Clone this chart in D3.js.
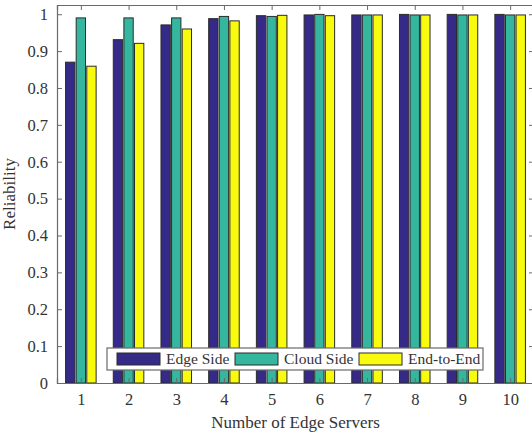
<!DOCTYPE html>
<html>
<head>
<meta charset="utf-8">
<script src="https://cdn.jsdelivr.net/npm/d3@7"></script>
<style>
  body { margin: 0; background: #fff; }
  svg { display: block; font-family: "Liberation Serif", "Times New Roman", serif; }
</style>
</head>
<body>
<div id="chart"></div>
<script>
// data
var servers = [1, 2, 3, 4, 5, 6, 7, 8, 9, 10];
var seriesNames = ["Edge Side", "Cloud Side", "End-to-End"];
var edgeSide  = [0.870, 0.931, 0.971, 0.988, 0.996, 0.998, 0.998, 0.9995, 0.9995, 0.9995];
var cloudSide = [0.990, 0.990, 0.990, 0.994, 0.994, 0.9995, 0.998, 0.998, 0.998, 0.998];
var endToEnd  = [0.859, 0.921, 0.960, 0.982, 0.997, 0.996, 0.998, 0.998, 0.998, 0.998];
var yTicks = [0, 0.1, 0.2, 0.3, 0.4, 0.5, 0.6, 0.7, 0.8, 0.9, 1];
var colors = ["#352a87", "#35b79f", "#f9fb0e"];

var allSeries = [edgeSide, cloudSide, endToEnd];

var width = 532, height = 435;
var margin = { top: 5, right: -2, bottom: 52, left: 57 };
var w = width - margin.left - margin.right,
    h = height - margin.top - margin.bottom;

var svg = d3.select("#chart").append("svg")
  .attr("width", width)
  .attr("height", height);

var g = svg.append("g")
  .attr("transform", "translate(" + margin.left + "," + margin.top + ")");

// scales
var x = d3.scaleLinear().domain([0.5, 10.5]).range([0, w]);
var y = d3.scaleLinear().domain([0, 1.025]).range([h, 0]);

var step = x(2) - x(1);
var groupW = step * 0.667;
var inner = d3.scaleBand()
  .domain(d3.range(seriesNames.length))
  .range([-groupW / 2, groupW / 2])
  .paddingInner(0.12)
  .paddingOuter(0.06);

// bars
var groups = g.selectAll(".series")
  .data(allSeries)
  .enter().append("g")
  .attr("class", "series")
  .style("fill", function (d, i) { return colors[i]; });

groups.each(function (vals, si) {
  d3.select(this).selectAll("rect")
    .data(vals)
    .enter().append("rect")
    .attr("x", function (d, i) { return x(servers[i]) + inner(si); })
    .attr("y", function (d) { return y(d); })
    .attr("width", inner.bandwidth())
    .attr("height", function (d) { return h - y(d); })
    .attr("stroke", "#2b2b2b")
    .attr("stroke-width", 1);
});

// axes (MATLAB style box, ticks inward)
var axisColor = "#6a6a6a";

var xAxis = d3.axisBottom(x).tickValues(servers).tickSize(-5).tickPadding(10).tickFormat(d3.format("d"));
var yAxis = d3.axisLeft(y).tickValues(yTicks).tickSize(-5).tickPadding(9).tickFormat(function (d) { return d === 0 || d === 1 ? d : d.toFixed(1); });

g.append("g")
  .attr("class", "x-axis axis")
  .attr("transform", "translate(0," + h + ")")
  .call(xAxis);

g.append("g")
  .attr("class", "y-axis axis")
  .call(yAxis);

g.append("g")
  .attr("class", "x-axis-top axis")
  .call(d3.axisTop(x).tickValues(servers).tickSize(-5).tickFormat(""));

g.append("g")
  .attr("class", "y-axis-right axis")
  .attr("transform", "translate(" + w + ",0)")
  .call(d3.axisRight(y).tickValues(yTicks).tickSize(-5).tickFormat(""));

g.selectAll(".axis path").attr("stroke", axisColor).attr("stroke-width", 1.2);
g.selectAll(".axis line").attr("stroke", axisColor);
g.selectAll(".axis text")
  .attr("fill", "#333")
  .style("font-family", "Liberation Serif, serif")
  .style("font-size", "16.5px");

// axis labels
g.append("text")
  .attr("x", w / 2)
  .attr("y", h + 45)
  .attr("text-anchor", "middle")
  .attr("fill", "#333")
  .style("font-size", "17px")
  .text("Number of Edge Servers");

g.append("text")
  .attr("transform", "translate(" + (-42) + "," + (h / 2) + ") rotate(-90)")
  .attr("text-anchor", "middle")
  .attr("fill", "#333")
  .style("font-size", "17px")
  .text("Reliability");

// legend
var legend = svg.append("g").attr("class", "legend")
  .attr("transform", "translate(107,348)");

legend.append("rect")
  .attr("width", 376)
  .attr("height", 22)
  .attr("fill", "#fff")
  .attr("stroke", axisColor)
  .attr("stroke-width", 1.2);

var legendX = [10, 128, 252];
var items = legend.selectAll(".item")
  .data(seriesNames)
  .enter().append("g")
  .attr("class", "item")
  .attr("transform", function (d, i) { return "translate(" + legendX[i] + ",0)"; });

items.append("rect")
  .attr("y", 5)
  .attr("width", 43)
  .attr("height", 12)
  .attr("fill", function (d, i) { return colors[i]; })
  .attr("stroke", "#2b2b2b");

items.append("text")
  .attr("x", 49)
  .attr("y", 16)
  .attr("fill", "#333")
  .style("font-size", "15.5px")
  .text(function (d) { return d; });
</script>
</body>
</html>
